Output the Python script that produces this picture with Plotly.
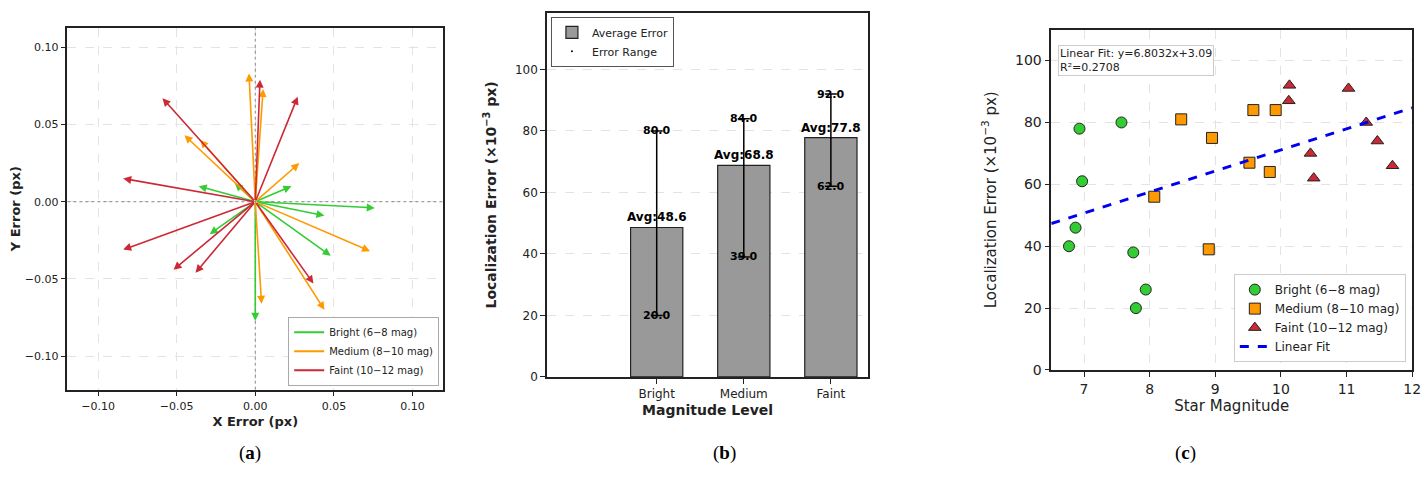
import plotly.graph_objects as go

# (a) error vectors
bright_dx = [0.076, 0.044, 0.048, 0.023, -0.036, -0.013, -0.029, 0.0]
bright_dy = [-0.004, -0.009, -0.035, 0.010, 0.010, 0.012, -0.021, -0.077]
medium_dx = [-0.004, 0.005, 0.028, 0.073, 0.044, 0.004, -0.045, -0.035]
medium_dy = [0.083, 0.073, 0.025, -0.032, -0.070, -0.066, 0.043, 0.040]
faint_dx = [0.003, 0.027, -0.059, -0.084, -0.084, -0.052, -0.038, 0.037]
faint_dy = [0.079, 0.068, 0.067, 0.015, -0.031, -0.044, -0.046, -0.053]

# (b) bar data
levels = ['Bright', 'Medium', 'Faint']
avg_err = [48.6, 68.8, 77.8]
min_err = [20.0, 39.0, 62.0]
max_err = [80.0, 84.0, 92.0]

# (c) scatter
bright_mag = [6.77, 6.87, 6.93, 6.97, 7.57, 7.75, 7.79, 7.94]
bright_err = [40, 46, 78, 61, 80, 38, 20, 26]
medium_mag = [8.07, 8.48, 8.90, 8.95, 9.52, 9.58, 9.83, 9.92]
medium_err = [56, 81, 39, 75, 67, 84, 64, 84]
faint_mag = [10.13, 10.12, 10.45, 10.50, 11.03, 11.30, 11.47, 11.70]
faint_err = [92, 87, 70, 62, 91, 80, 74, 66]
fit_slope, fit_icpt = 6.8032, 3.09

GREEN, ORANGE, RED = '#33cc33', '#ff9900', '#cc2936'
FONT = 'DejaVu Sans'

fig = go.Figure()
annots = []

# panel (a)
for name, dxs, dys, col in [('Bright (6−8 mag)', bright_dx, bright_dy, GREEN),
                            ('Medium (8−10 mag)', medium_dx, medium_dy, ORANGE),
                            ('Faint (10−12 mag)', faint_dx, faint_dy, RED)]:
    fig.add_trace(go.Scatter(x=[None], y=[None], mode='lines', name=name,
                             line=dict(color=col, width=2), xaxis='x', yaxis='y',
                             legend='legend2'))
    for dx, dy in zip(dxs, dys):
        annots.append(dict(x=dx, y=dy, ax=0, ay=0, xref='x', yref='y', axref='x', ayref='y',
                           showarrow=True, arrowhead=2, arrowsize=1, arrowwidth=1.6,
                           arrowcolor=col, text=''))
# dotted zero lines
fig.add_trace(go.Scatter(x=[-0.1195, 0.1195], y=[0, 0], mode='lines', showlegend=False,
                         line=dict(color='#888888', width=1, dash='dot'), xaxis='x', yaxis='y'))
fig.add_trace(go.Scatter(x=[0, 0], y=[-0.1217, 0.1127], mode='lines', showlegend=False,
                         line=dict(color='#888888', width=1, dash='dot'), xaxis='x', yaxis='y'))

# panel (b)
fig.add_trace(go.Bar(x=[0, 1, 2], y=avg_err, width=0.6, name='Average Error',
                     marker=dict(color='#999999', line=dict(color='#222222', width=1.2)),
                     xaxis='x2', yaxis='y2', legend='legend3'))
fig.add_trace(go.Scatter(x=[0, 1, 2], y=avg_err, mode='markers', name='Error Range',
                         marker=dict(size=1, color='black'),
                         error_y=dict(type='data', symmetric=False,
                                      array=[a - b for a, b in zip(max_err, avg_err)],
                                      arrayminus=[a - b for a, b in zip(avg_err, min_err)],
                                      color='black', thickness=1.5, width=6),
                         xaxis='x2', yaxis='y2', legend='legend3'))
for i in range(3):
    annots.append(dict(x=i, y=avg_err[i], xref='x2', yref='y2', text=f'<b>Avg:{avg_err[i]}</b>',
                       showarrow=False, yshift=10, font=dict(size=12, color='black', family=FONT)))
    annots.append(dict(x=i, y=max_err[i], xref='x2', yref='y2', text=f'<b>{max_err[i]:.1f}</b>',
                       showarrow=False, font=dict(size=11, color='black', family=FONT)))
    annots.append(dict(x=i, y=min_err[i], xref='x2', yref='y2', text=f'<b>{min_err[i]:.1f}</b>',
                       showarrow=False, font=dict(size=11, color='black', family=FONT)))

# panel (c)
for name, xs, ys, col, sym in [('Bright (6−8 mag)', bright_mag, bright_err, GREEN, 'circle'),
                               ('Medium (8−10 mag)', medium_mag, medium_err, ORANGE, 'square'),
                               ('Faint (10−12 mag)', faint_mag, faint_err, RED, 'triangle-up')]:
    fig.add_trace(go.Scatter(x=xs, y=ys, mode='markers', name=name,
                             marker=dict(color=col, symbol=sym, size=11,
                                         line=dict(color='#222222', width=1)),
                             xaxis='x3', yaxis='y3', legend='legend'))
fit_x = [6.5, 12]
fig.add_trace(go.Scatter(x=fit_x, y=[fit_slope * v + fit_icpt for v in fit_x], mode='lines',
                         name='Linear Fit', line=dict(color='#0000ee', width=3, dash='dash'),
                         xaxis='x3', yaxis='y3', legend='legend'))
annots.append(dict(x=6.6, y=105, xref='x3', yref='y3', xanchor='left', yanchor='top',
                   text=f'Linear Fit: y={fit_slope}x+{fit_icpt}<br>R²=0.2708', align='left',
                   showarrow=False, bgcolor='white', bordercolor='#cccccc', borderwidth=1,
                   font=dict(size=11, color='#222222', family=FONT)))

# captions
for lab, xp in [('a', 225 / 1428), ('b', 718 / 1428), ('c', 1196 / 1428)]:
    annots.append(dict(x=xp, y=1 - 466 / 490, xref='paper', yref='paper', showarrow=False,
                       text=f'(<b>{lab}</b>)', font=dict(size=19, color='black', family='Liberation Serif')))

ax_common = dict(showline=True, linecolor='#222222', linewidth=1.5, mirror=True, ticks='outside',
                 tickcolor='#222222', showgrid=True, gridcolor='#e3e3e3', griddash='dash',
                 zeroline=False, tickfont=dict(size=12, color='#222222'))

fig.update_layout(
    width=1428, height=490, margin=dict(l=0, r=0, t=0, b=0),
    plot_bgcolor='white', paper_bgcolor='white',
    font=dict(family=FONT, color='#222222'),
    annotations=annots, bargap=0.4,
    xaxis=dict(ax_common, domain=[53 / 1428, 433 / 1428], range=[-0.1195, 0.1195], anchor='y',
               tickvals=[-0.1, -0.05, 0, 0.05, 0.1], tickformat='.2f', tickfont=dict(size=11),
               title=dict(text='<b>X Error (px)</b>', font=dict(size=13), standoff=5)),
    yaxis=dict(ax_common, domain=[1 - 388 / 490, 1 - 20 / 490], range=[-0.1217, 0.1127], anchor='x',
               tickvals=[-0.1, -0.05, 0, 0.05, 0.1], tickformat='.2f', tickfont=dict(size=11),
               title=dict(text='<b>Y Error (px)</b>', font=dict(size=13), standoff=8)),
    xaxis2=dict(ax_common, domain=[538 / 1428, 863 / 1428], range=[-1.26, 2.43], anchor='y2',
                tickvals=[0, 1, 2], ticktext=levels, showgrid=False,
                title=dict(text='<b>Magnitude Level</b>', font=dict(size=14), standoff=5)),
    yaxis2=dict(ax_common, domain=[1 - 375 / 490, 1 - 5 / 490], range=[0, 118.4], anchor='x2',
                tickvals=[0, 20, 40, 60, 80, 100],
                title=dict(text='<b>Localization Error (×10<sup>−3</sup> px)</b>', font=dict(size=14))),
    xaxis3=dict(ax_common, domain=[1048 / 1428, 1413 / 1428], range=[6.5, 12], anchor='y3',
                tickvals=[7, 8, 9, 10, 11, 12], tickfont=dict(size=14),
                title=dict(text='Star Magnitude', font=dict(size=15), standoff=3)),
    yaxis3=dict(ax_common, domain=[1 - 368 / 490, 1 - 22 / 490], range=[0, 110], anchor='x3',
                tickvals=[0, 20, 40, 60, 80, 100], tickfont=dict(size=14),
                title=dict(text='Localization Error (×10<sup>−3</sup> px)', font=dict(size=15))),
    legend=dict(x=0.985, y=1 - 360 / 490, xanchor='right', yanchor='bottom', xref='paper', yref='paper',
                bgcolor='white', bordercolor='#cccccc', borderwidth=1, font=dict(size=12)),
    legend2=dict(x=429 / 1428, y=1 - 384 / 490, xanchor='right', yanchor='bottom',
                 bgcolor='white', bordercolor='#aaaaaa', borderwidth=1, font=dict(size=10),
                 tracegroupgap=0, itemwidth=30),
    legend3=dict(x=542 / 1428, y=1 - 9 / 490, xanchor='left', yanchor='top',
                 bgcolor='white', bordercolor='#555555', borderwidth=1, font=dict(size=11)),
)

fig.write_html("out.html")
